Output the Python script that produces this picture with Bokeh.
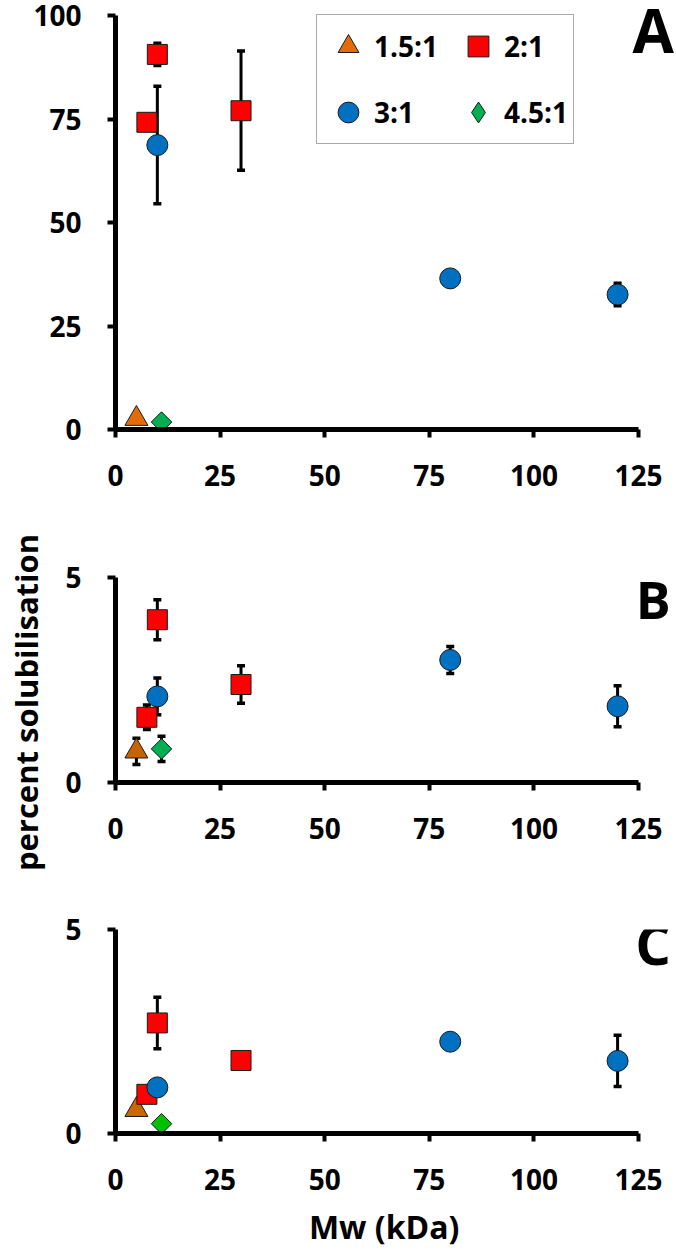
import math
from bokeh.plotting import figure
from bokeh.models import (ColumnDataSource, Whisker, TeeHead, Label, Legend, LegendItem,
                          FixedTicker, Range1d)
from bokeh.layouts import column, row
from bokeh.embed import file_html
from bokeh.resources import INLINE

# ---------------- data ----------------
# Panel A
a_tri_x = [5];            a_tri_y = [2.6];               a_tri_e = [0]
a_sq_x = [7.5, 10, 30];   a_sq_y = [74.2, 90.6, 77.0];   a_sq_e = [0, 2.7, 14.4]
a_ci_x = [10, 80, 120];   a_ci_y = [68.7, 36.5, 32.6];   a_ci_e = [14.2, 0, 2.7]
a_di_x = [11];            a_di_y = [1.8];                a_di_e = [0]
# Panel B
b_tri_x = [5];            b_tri_y = [0.76];              b_tri_e = [0.32]
b_sq_x = [7.5, 10, 30];   b_sq_y = [1.59, 3.97, 2.39];   b_sq_e = [0.30, 0.49, 0.46]
b_ci_x = [10, 80, 120];   b_ci_y = [2.10, 2.99, 1.86];   b_ci_e = [0.45, 0.33, 0.50]
b_di_x = [11];            b_di_y = [0.82];               b_di_e = [0.31]
# Panel C
c_tri_x = [5];            c_tri_y = [0.58];              c_tri_e = [0]
c_sq_x = [7.5, 10, 30];   c_sq_y = [0.96, 2.71, 1.79];   c_sq_e = [0, 0.63, 0]
c_ci_x = [10, 80, 120];   c_ci_y = [1.13, 2.25, 1.78];   c_ci_e = [0, 0, 0.63]
c_di_x = [11];            c_di_y = [0.24];               c_di_e = [0]

series_names = ["1.5:1", "2:1", "3:1", "4.5:1"]
x_ticks = [0, 25, 50, 75, 100, 125]
a_y_ticks = [0, 25, 50, 75, 100]
bc_y_ticks = [0, 5]
panel_letters = ["A", "B", "C"]
x_title = "Mw (kDa)"
y_title = "percent solubilisation"

FONT = "Open Sans"
FULL_W = 676
STRIP_W = 62            # strip left of panels B and C holding the y title
AXIS_X = 115            # page x of the y axes
X_END = 134.08          # frame extends past 125 so panel letters fit; axis is bounded at 125


def make_panel(width, height, top, bottom, ymax, yticks, series, colors,
               legend=False, ytop=None):
    p = figure(width=width, height=height, output_backend="svg", toolbar_location=None,
               x_range=Range1d(0, X_END), y_range=Range1d(0, ytop if ytop else ymax),
               min_border_left=AXIS_X - (FULL_W - width), min_border_right=0,
               min_border_top=top, min_border_bottom=bottom)
    p.outline_line_color = None
    p.xgrid.visible = False
    p.ygrid.visible = False
    p.background_fill_color = "white"
    p.border_fill_color = "white"
    for ax, ticks in ((p.xaxis[0], x_ticks), (p.yaxis[0], yticks)):
        ax.ticker = FixedTicker(ticks=ticks)
        ax.minor_tick_line_color = None
        ax.axis_line_width = 5
        ax.axis_line_color = "black"
        ax.major_tick_line_width = 4
        ax.major_tick_line_color = "black"
        ax.major_tick_out = 8
        ax.major_tick_in = 0
        ax.major_label_text_font = FONT
        ax.major_label_text_font_style = "bold"
        ax.major_label_text_font_size = "28px"
        ax.major_label_text_color = "black"
    p.xaxis[0].bounds = (0, 125)
    p.yaxis[0].bounds = (0, ymax)
    p.xaxis[0].major_label_standoff = 27
    p.yaxis[0].major_label_standoff = 26

    markers = ["triangle", "square", "circle", "square"]
    sizes = [23, 20, 21, 14.5]
    angles = [0, 0, 0, math.pi / 4]
    renderers = []
    dia = None
    for k, ((xs, ys, es), col, mk, sz, ang) in enumerate(zip(series, colors, markers, sizes, angles)):
        ex = [x for x, e in zip(xs, es) if e > 0]
        eu = [y + e for y, e in zip(ys, es) if e > 0]
        el = [y - e for y, e in zip(ys, es) if e > 0]
        if ex:
            wsrc = ColumnDataSource(dict(x=ex, upper=eu, lower=el))
            w = Whisker(base="x", upper="upper", lower="lower", source=wsrc,
                        line_width=3, line_color="black",
                        upper_head=TeeHead(size=8, line_width=3.5, line_color="black"),
                        lower_head=TeeHead(size=8, line_width=3.5, line_color="black"))
            p.add_layout(w)
        src = ColumnDataSource(dict(x=xs, y=ys))
        if k == 3:
            # diamond used as legend glyph (legend glyphs are drawn unrotated);
            # it lies fully underneath the rotated square drawn next
            dia = p.scatter("x", "y", source=src, marker="diamond", size=19,
                            fill_color=col, line_color="#1a1a1a", line_width=1)
        r = p.scatter("x", "y", source=src, marker=mk, size=sz, angle=ang,
                      fill_color=col, line_color="#1a1a1a", line_width=1)
        renderers.append(r)

    if legend:
        leg_r = [renderers[0], renderers[1], renderers[2], dia]
        order = [0, 2, 1, 3]  # legend is filled column by column
        items = [LegendItem(label=series_names[i], renderers=[leg_r[i]]) for i in order]
        lg = Legend(items=items, location=(201, 285), ncols=2,
                    glyph_width=52, glyph_height=52, label_standoff=-10,
                    padding=5, spacing=14, margin=0,
                    label_text_font=FONT, label_text_font_style="bold",
                    label_text_font_size="28px", label_text_color="black",
                    border_line_color="#555555", border_line_width=1.5,
                    background_fill_color="white", background_fill_alpha=1)
        p.add_layout(lg, "center")
    return p


colors_a = ["#E36C0A", "#FF0000", "#0070C0", "#00B050"]
colors_b = ["#C86400", "#FF0000", "#0070C0", "#00B050"]
colors_c = ["#CC6600", "#FF0000", "#0070C0", "#00C000"]

BC_W = FULL_W - STRIP_W
# panel A: frame reaches the top edge (axis bounded at 100, which sits 15px below it)
pA = make_panel(FULL_W, 530, 0, 101, 100, a_y_ticks,
                [(a_tri_x, a_tri_y, a_tri_e), (a_sq_x, a_sq_y, a_sq_e),
                 (a_ci_x, a_ci_y, a_ci_e), (a_di_x, a_di_y, a_di_e)], colors_a,
                legend=True, ytop=100 * 429 / 414)
pB = make_panel(BC_W, 360, 47, 108, 5, bc_y_ticks,
                [(b_tri_x, b_tri_y, b_tri_e), (b_sq_x, b_sq_y, b_sq_e),
                 (b_ci_x, b_ci_y, b_ci_e), (b_di_x, b_di_y, b_di_e)], colors_b)
pC = make_panel(BC_W, 310, 39, 67, 5, bc_y_ticks,
                [(c_tri_x, c_tri_y, c_tri_e), (c_sq_x, c_sq_y, c_sq_e),
                 (c_ci_x, c_ci_y, c_ci_e), (c_di_x, c_di_y, c_di_e)], colors_c)

for p, txt, ly, fs in ((pA, panel_letters[0], 96.4, "60px"),
                       (pB, panel_letters[1], 4.50, "52px"),
                       (pC, panel_letters[2], 4.66, "56px")):
    p.add_layout(Label(x=128.5, y=ly, text=txt, text_align="center", text_baseline="middle",
                       text_font=FONT, text_font_style="bold", text_font_size=fs,
                       text_color="black"))

# strip left of B and C (page y 530..1250) with the shared y title
STRIP_H = 360 + 310 + 50
left = figure(width=STRIP_W, height=STRIP_H, output_backend="svg", toolbar_location=None,
              x_range=Range1d(0, STRIP_W), y_range=Range1d(0, STRIP_H),
              min_border=0, min_border_left=0, min_border_right=0,
              min_border_top=0, min_border_bottom=0,
              x_axis_type=None, y_axis_type=None)
left.outline_line_color = None
left.xgrid.visible = False
left.ygrid.visible = False
left.add_layout(Label(x=25.5, y=STRIP_H - (702 - 530), text=y_title, angle=math.pi / 2,
                      text_align="center", text_baseline="middle",
                      text_font=FONT, text_font_style="bold", text_font_size="31px",
                      text_color="black"))

# strip under panel C with the x title (same x scale as the panels)
bottom = figure(width=BC_W, height=50, output_backend="svg", toolbar_location=None,
                x_range=Range1d(0, X_END), y_range=Range1d(0, 50),
                min_border=0, min_border_left=AXIS_X - STRIP_W, min_border_right=0,
                min_border_top=0, min_border_bottom=0,
                x_axis_type=None, y_axis_type=None)
bottom.outline_line_color = None
bottom.xgrid.visible = False
bottom.ygrid.visible = False
bottom.add_layout(Label(x=64.2, y=24, text=x_title, text_align="center",
                        text_baseline="middle",
                        text_font=FONT, text_font_style="bold", text_font_size="32px",
                        text_color="black"))

layout = column(pA, row(left, column(pB, pC, bottom, spacing=0), spacing=0), spacing=0)
open("out.html", "w").write(file_html(layout, INLINE))
